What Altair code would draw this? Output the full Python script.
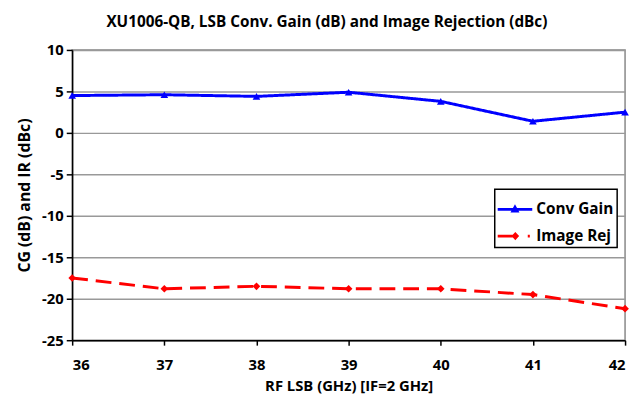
import altair as alt
import pandas as pd

rf = [36, 37, 38, 39, 40, 41, 42]
conv_gain = [4.5, 4.6, 4.4, 4.9, 3.8, 1.4, 2.5]
image_rej = [-17.5, -18.8, -18.5, -18.8, -18.8, -19.5, -21.2]
series = ["Conv Gain", "Image Rej"]
y_ticks = [-25, -20, -15, -10, -5, 0, 5, 10]

df = pd.DataFrame({
    "rf": rf * 2,
    "val": conv_gain + image_rej,
    "series": [series[0]] * len(rf) + [series[1]] * len(rf),
})

FONT = "Open Sans"

x = alt.X("rf:Q", scale=alt.Scale(domain=[36, 42], nice=False, zero=False),
          axis=alt.Axis(values=rf, title="RF LSB (GHz) [IF=2 GHz]", grid=False,
                        format="d", domainColor="black", domainWidth=1.5,
                        tickColor="black", tickWidth=1.5, tickSize=5,
                        labelFontSize=15, labelFontWeight="bold", labelFont=FONT,
                        labelPadding=13, labelColor="black",
                        titleFontSize=15, titleFontWeight="bold", titleFont=FONT,
                        titlePadding=6, titleColor="black"))
y = alt.Y("val:Q", scale=alt.Scale(domain=[-25, 10], nice=False, zero=False),
          axis=alt.Axis(values=y_ticks, title="CG (dB) and IR (dBc)",
                        labelExpr="datum.value + ''",
                        gridColor="#999999", gridWidth=1.5,
                        domainColor="black", domainWidth=1.5,
                        tickColor="black", tickWidth=1.5, tickSize=6,
                        labelFontSize=15, labelFontWeight="bold", labelFont=FONT,
                        labelPadding=3, labelColor="black",
                        titleFontSize=16, titleFontWeight="bold", titleFont=FONT,
                        titlePadding=9, titleColor="black"))
color_scale = alt.Scale(domain=series, range=["#0000FF", "#FF0000"])

lines = alt.Chart(df).mark_line(strokeWidth=3).encode(
    x=x, y=y,
    color=alt.Color("series:N", scale=color_scale, legend=None),
    strokeDash=alt.StrokeDash("series:N", scale=alt.Scale(domain=series, range=[[1, 0], [16, 8]]), legend=None),
)
points = alt.Chart(df).mark_point(filled=True, size=60, opacity=1).encode(
    x=x, y=y,
    color=alt.Color("series:N", scale=color_scale, legend=None),
    shape=alt.Shape("series:N", scale=alt.Scale(domain=series, range=["triangle-up", "diamond"]), legend=None),
)

tri_path = "M-1,-0.08H1V0.08H-1Z M0,-0.3L0.26,0.18L-0.26,0.18Z"
dia_path = "M-1,-0.08H-0.1V0.08H-1Z M0.02,-0.24L0.24,0L0.02,0.24L-0.2,0Z M0.74,-0.08H0.86V0.08H0.74Z"

legend_layer = alt.Chart(df).mark_point(filled=True, opacity=0).encode(
    x=x, y=y,
    color=alt.Color("series:N", scale=color_scale, legend=alt.Legend(title=None)),
    shape=alt.Shape("series:N", scale=alt.Scale(domain=series, range=[tri_path, dia_path]),
                    legend=alt.Legend(title=None)),
)

chart = alt.layer(lines, points, legend_layer).resolve_scale(
    shape="independent", color="independent"
).properties(
    width=560, height=294,
    title=alt.Title("XU1006-QB, LSB Conv. Gain (dB) and Image Rejection (dBc)",
                    font=FONT, fontSize=15.5, fontWeight="bold", color="black",
                    anchor="middle", dx=-22, offset=13),
    autosize=alt.AutoSizeParams(type="none"),
    padding={"left": 65, "top": 40, "right": 5, "bottom": 52},
).configure_view(
    stroke="#888888", strokeWidth=1.5
).configure_legend(
    orient="none", legendX=428, legendY=141, title=None,
    labelFont=FONT, labelFontSize=15.5, labelFontWeight="bold", labelColor="black",
    symbolSize=1225, symbolOpacity=1, symbolStrokeWidth=0,
    strokeColor="black", fillColor="white", padding=3, rowPadding=1,
    labelOffset=4, cornerRadius=0, strokeWidth=1.5,
)

chart.save("out.html", embed_options={"renderer": "svg", "actions": False})
